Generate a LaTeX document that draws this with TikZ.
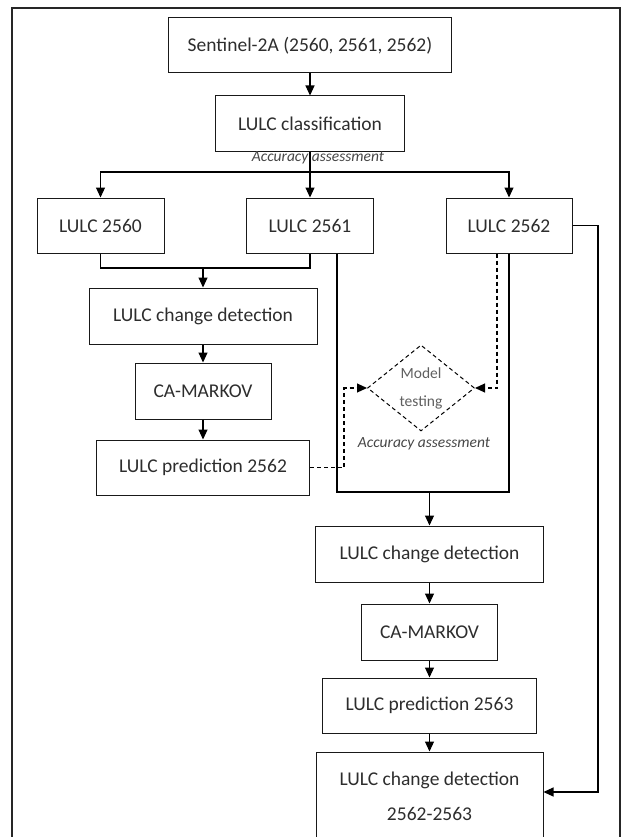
\documentclass[tikz,border=0pt]{standalone}
\usepackage{fontspec}
\setmainfont{Carlito}
\usetikzlibrary{arrows.meta,shapes.geometric}
\definecolor{boxline}{RGB}{25,25,25}
\definecolor{boxtext}{RGB}{45,45,45}
\definecolor{notegray}{RGB}{70,70,70}
\definecolor{testgray}{RGB}{95,95,95}

\begin{document}
\begin{tikzpicture}[x=1pt,y=-1pt,>={Triangle[length=10pt,width=9pt]}]
\tikzstyle{flowbox}=[draw=boxline,line width=1pt,inner sep=0pt,align=center,text=boxtext,font=\fontsize{19.5}{23}\selectfont,minimum height=55pt]
\tikzstyle{flowline}=[line width=1.1pt,black]
\tikzstyle{testline}=[line width=1.1pt,black,dash pattern=on 4pt off 3pt]
\tikzstyle{accnote}=[font=\itshape\fontsize{15.5}{18}\selectfont,text=notegray,inner sep=0pt]
\useasboundingbox (0,0) rectangle (621,837);
\draw[line width=1.6pt,black!85] (12,8) rectangle (620,850);
% classification
\node[flowbox,minimum width=283pt] (sen) at (310,45.5) {Sentinel-2A (2560, 2561, 2562)};
\node[flowbox,minimum width=189pt,minimum height=56pt] (cls) at (310,124) {LULC classification};
\node[accnote] (acc1) at (318,157.5) {Accuracy assessment};
\node[flowbox,minimum width=127pt] (l60) at (100.5,225.5) {LULC 2560};
\node[flowbox,minimum width=127pt] (l61) at (310,225.5) {LULC 2561};
\node[flowbox,minimum width=126pt] (l62) at (509,225.5) {LULC 2562};
% first prediction
\node[flowbox,minimum width=228pt,minimum height=56pt] (chg1) at (203,316) {LULC change detection};
\node[flowbox,minimum width=136pt,minimum height=56pt] (ca1) at (203,391) {CA-MARKOV};
\node[flowbox,minimum width=213pt] (pred1) at (203,467.5) {LULC prediction 2562};
% model testing
\node[diamond,draw=black,testline,line width=1pt,minimum width=107pt,minimum height=86pt,inner sep=0pt,align=center,text=testgray,font=\fontsize{15.5}{28}\selectfont] (mt) at (421,388) {Model\\testing};
\node[accnote] (acc2) at (424,443.5) {Accuracy assessment};
% second prediction
\node[flowbox,minimum width=228pt,minimum height=56pt] (chg2) at (429.5,554) {LULC change detection};
\node[flowbox,minimum width=136pt,minimum height=56pt] (ca2) at (429.5,632) {CA-MARKOV};
\node[flowbox,minimum width=214pt] (pred2) at (429.5,705.5) {LULC prediction 2563};
\node[flowbox,minimum width=227pt,minimum height=89pt] (last) at (429.5,796.5) {LULC change detection\\[11.5pt]2562-2563};
\coordinate (split) at (310,172);
\coordinate (join1) at (203,268);
\coordinate (join2) at (429.5,492);
\coordinate (rbend) at (598,792);
\draw[->,flowline] (sen) -- (cls); \draw[->,flowline] (cls.south) -- (l61.north);
\draw[->,flowline] (split) -| (l60.north); \draw[->,flowline] (split) -| (l62.north);
\draw[flowline] (l60.south) |- (join1) -| (l61.south); \draw[->,flowline] (join1) -- (chg1);
\draw[->,flowline] (chg1) -- (ca1); \draw[->,flowline] (ca1) -- (pred1);
\draw[flowline] ([xshift=27pt]l61.south) |- (join2) -| (l62.south); \draw[->,flowline] (join2) -- (chg2);
\draw[->,flowline] (chg2) -- (ca2); \draw[->,flowline] (ca2) -- (pred2); \draw[->,flowline] (pred2) -- (last);
\draw[->,testline] ([xshift=-12pt]l62.south) |- (mt.east);
\draw[->,testline] (pred1.east) -| ([xshift=-23pt]mt.west) -- (mt.west);
\draw[->,flowline] (l62.east) -| (rbend) -- (rbend -| last.east);
\end{tikzpicture}
\end{document}
